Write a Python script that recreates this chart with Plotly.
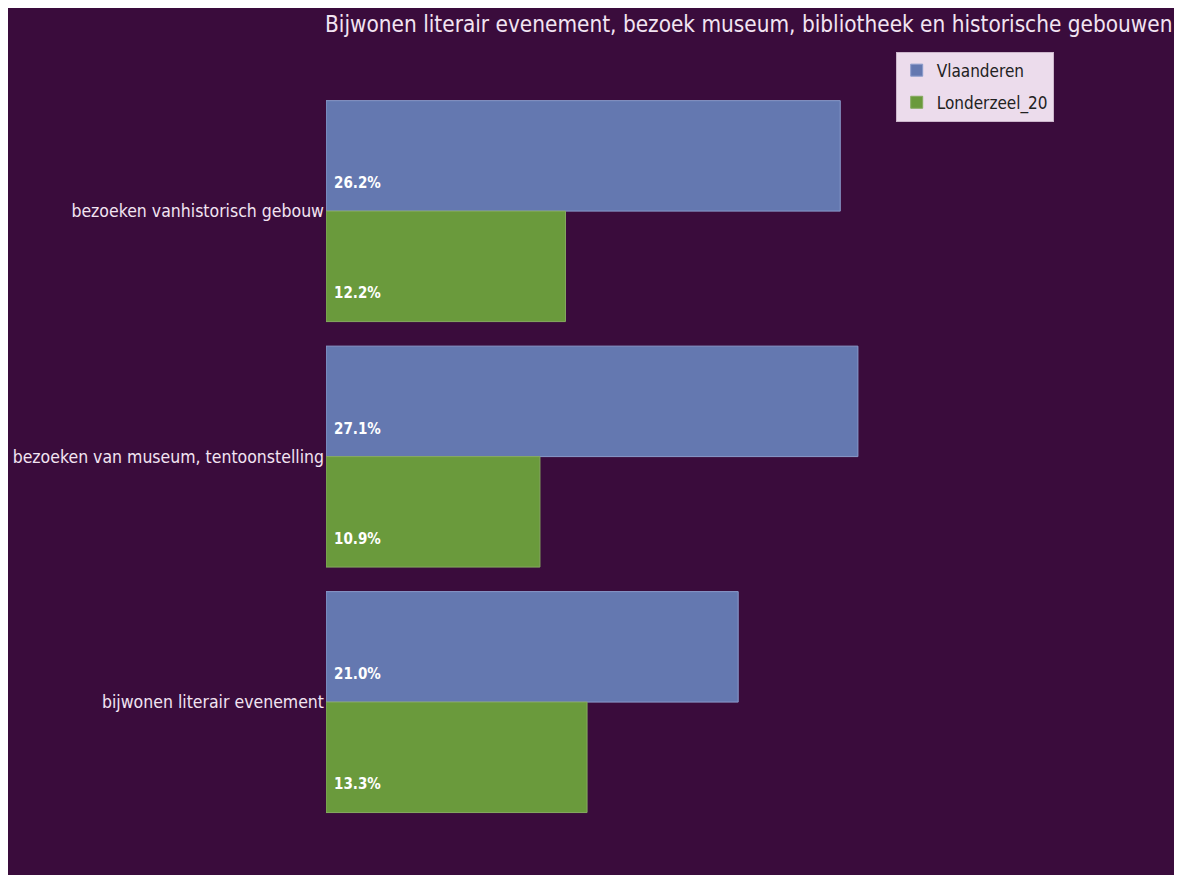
import plotly.graph_objects as go

# Data (bottom-to-top order on the category axis)
categories = ["bijwonen literair evenement",
              "bezoeken van museum, tentoonstelling",
              "bezoeken vanhistorisch gebouw"]
vlaanderen = [21.0, 27.1, 26.2]
londerzeel = [13.3, 10.9, 12.2]
series_names = ["Vlaanderen", "Londerzeel_20"]
title_text = "Bijwonen literair evenement, bezoek museum, bibliotheek en historische gebouwen"

BG = "#3a0c3c"
BLUE = "#6478b0"
GREEN = "#6a9a3c"
TXT = "#f2e4f2"
FONT = "DejaVu Sans Condensed, Liberation Sans Narrow, DejaVu Sans, sans-serif"

W, H = 1169, 867
ML, MR, MT, MB = 313, 7, 32, 5

fig = go.Figure()
fig.add_trace(go.Bar(
    y=categories, x=vlaanderen, name=series_names[0], orientation="h",
    width=0.45, offset=0.0, legendgroup="a",
    marker=dict(color=BLUE, line=dict(color="#8a9ccc", width=1)),
))
fig.add_trace(go.Bar(
    y=categories, x=londerzeel, name=series_names[1], orientation="h",
    width=0.45, offset=-0.45, legendgroup="b",
    marker=dict(color=GREEN, line=dict(color="#86aa60", width=1)),
))

annotations = []
for cat, v, l in zip(categories, vlaanderen, londerzeel):
    annotations.append(dict(x=0, y=cat, xref="x", yref="y", text=f"<b>{v:.1f}%</b>",
                            showarrow=False, xanchor="left", yanchor="middle",
                            xshift=6, yshift=28,
                            font=dict(family=FONT, size=15, color="#ffffff")))
    annotations.append(dict(x=0, y=cat, xref="x", yref="y", text=f"<b>{l:.1f}%</b>",
                            showarrow=False, xanchor="left", yanchor="middle",
                            xshift=6, yshift=-82,
                            font=dict(family=FONT, size=15, color="#ffffff")))
annotations.append(dict(x=0.5, y=1, xref="paper", yref="paper", text=title_text,
                        showarrow=False, xanchor="center", yanchor="bottom", yshift=1,
                        font=dict(family=FONT, size=22.4, color=TXT)))

fig.update_layout(
    width=W, height=H,
    margin=dict(l=ML, r=MR, t=MT, b=MB, pad=0),
    paper_bgcolor=BG, plot_bgcolor=BG,
    barmode="overlay",
    showlegend=True,
    legend=dict(x=0.675, y=0.986, xanchor="left", yanchor="top",
                bgcolor="#ecdcec", bordercolor="#cbb6cb", borderwidth=1,
                font=dict(family=FONT, size=17, color="#222222"),
                traceorder="grouped", tracegroupgap=7),
    xaxis=dict(range=[0, 43.0], showgrid=False, zeroline=False, showticklabels=False,
               ticks="", showline=False),
    yaxis=dict(type="category", categoryorder="array", categoryarray=categories,
               range=[-0.684, 2.697], showgrid=False, zeroline=False, ticks="",
               showline=False, ticklabelstandoff=1,
               tickfont=dict(family=FONT, size=17.5, color=TXT)),
    annotations=annotations,
)

fig.write_html("out.html")
